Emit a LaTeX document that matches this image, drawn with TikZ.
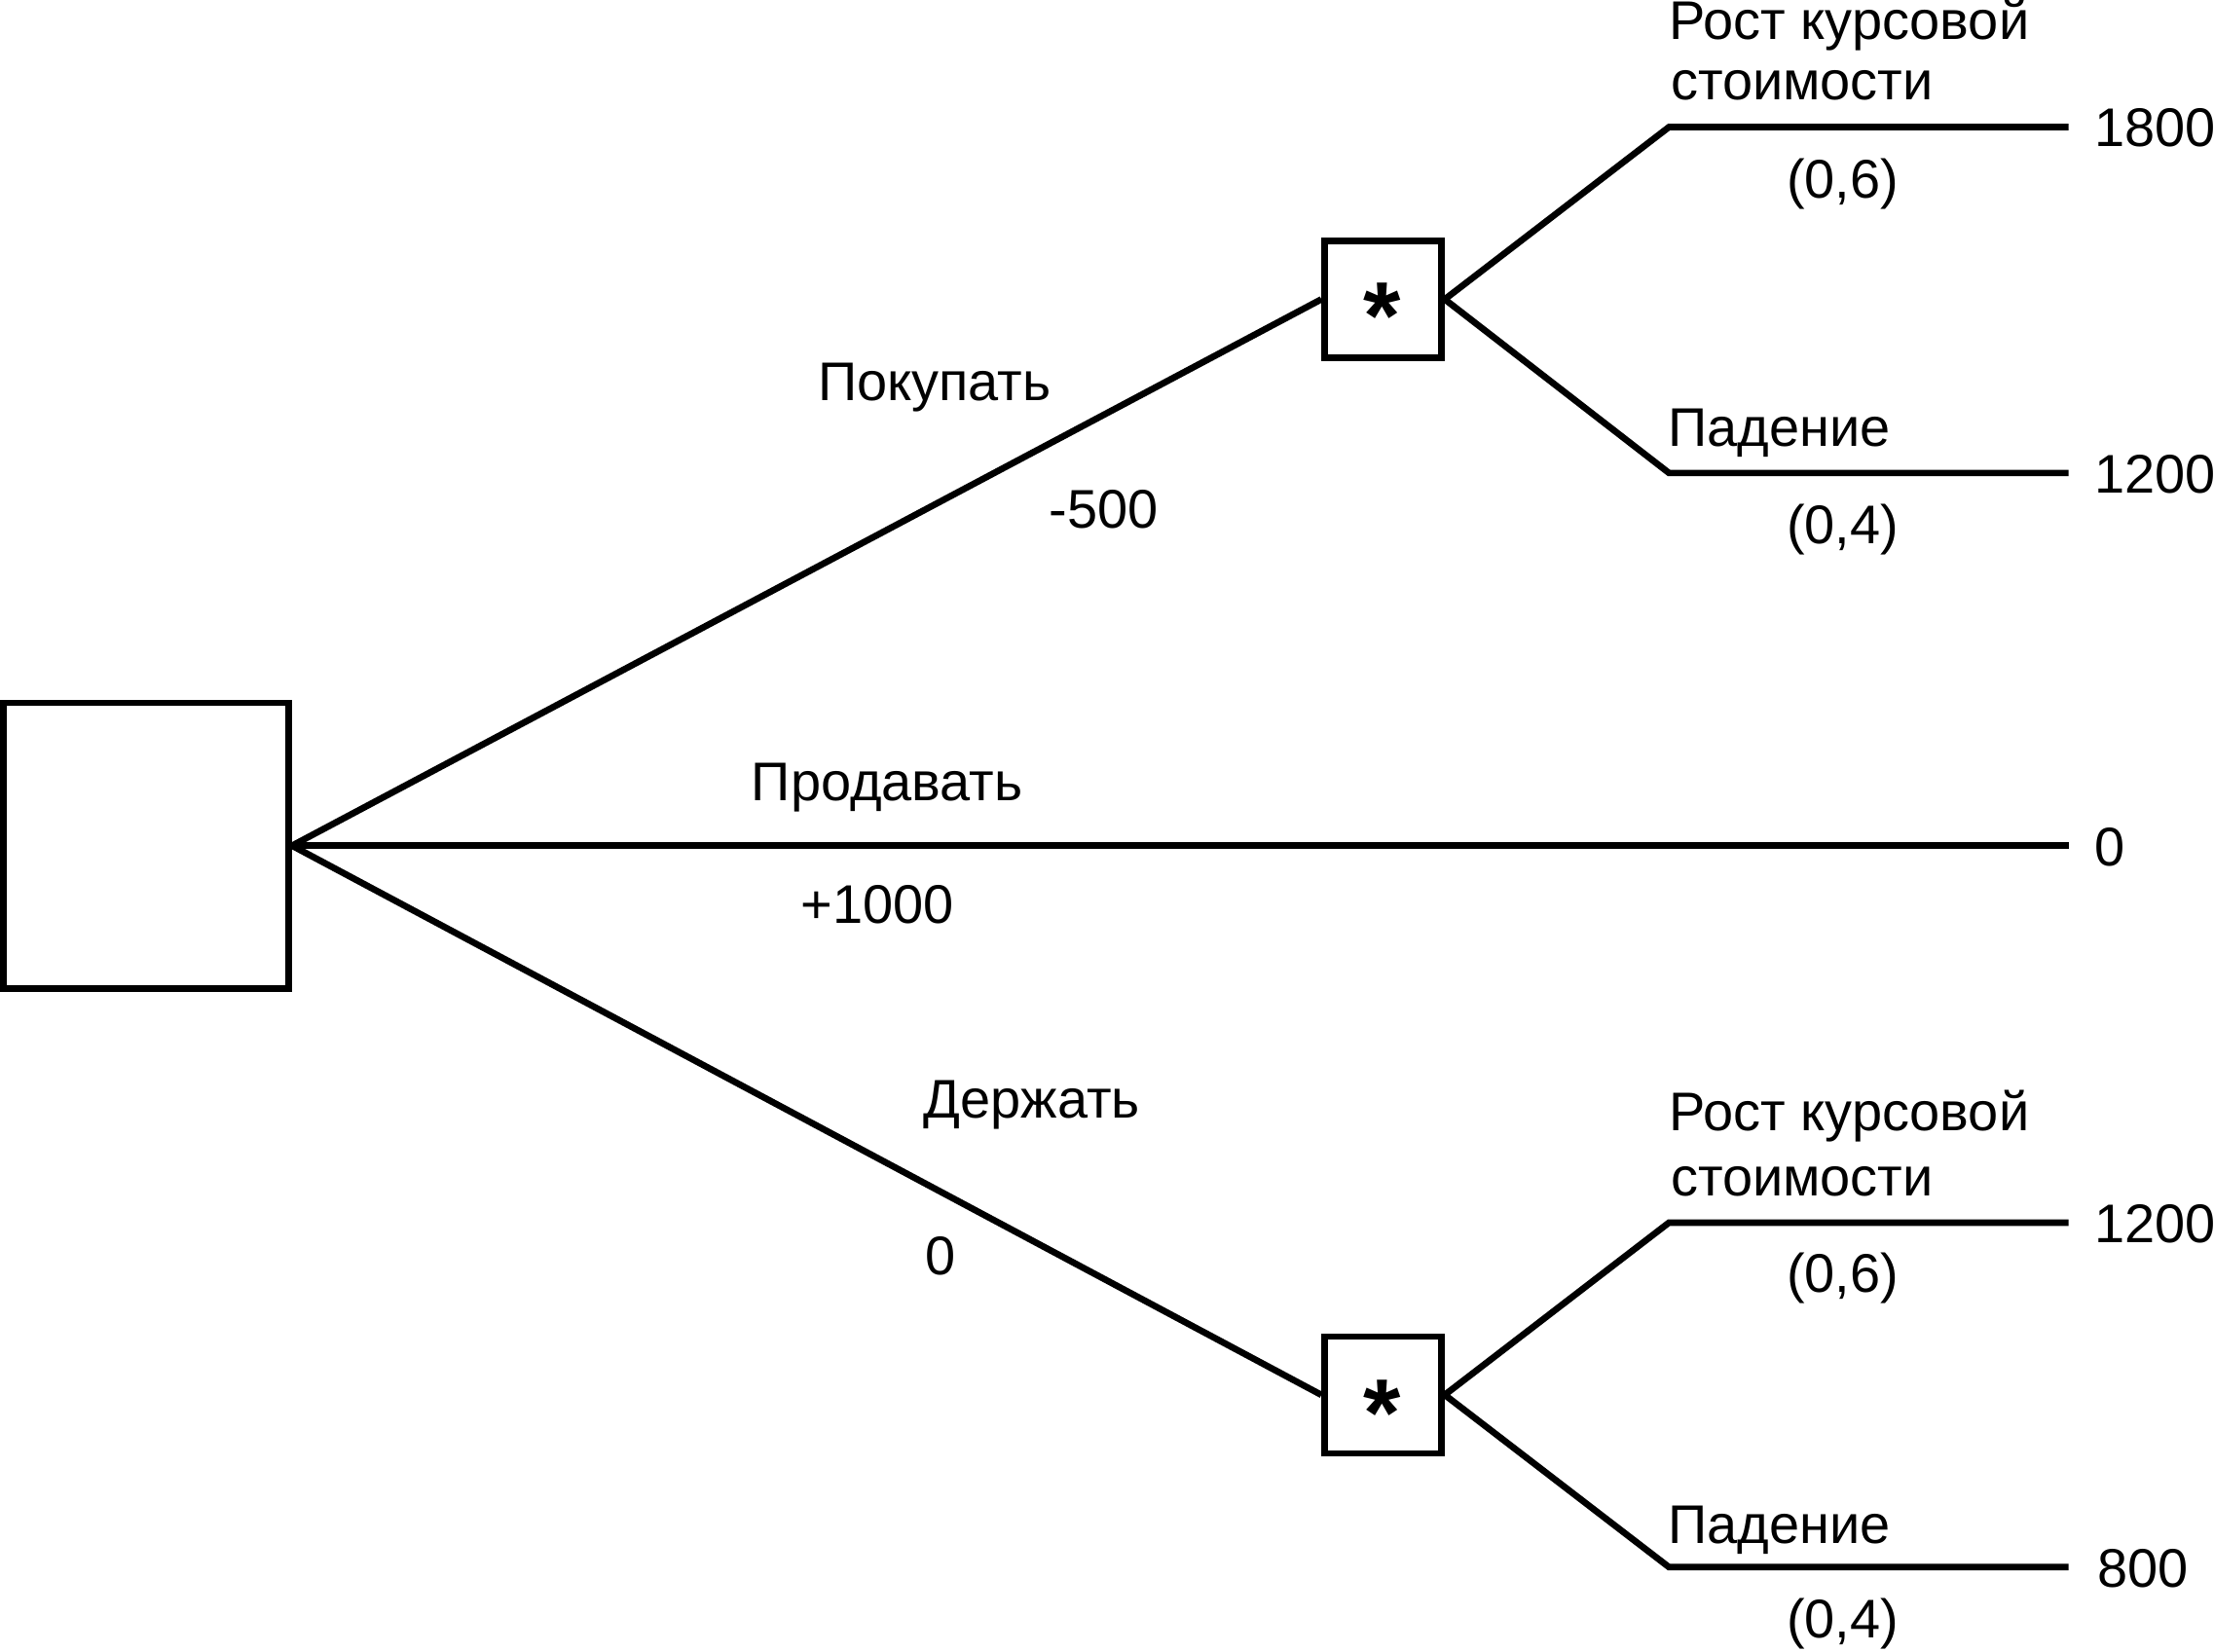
\documentclass[tikz,border=0pt]{standalone}
\usepackage{fontspec}
\setmainfont{Liberation Sans}
\begin{document}
\begin{tikzpicture}[x=0.014503cm,y=-0.014503cm,
  line width=1.9pt,
  every node/.style={font=\fontsize{15.9}{19}\selectfont},
  bigbox/.style={draw,rectangle,minimum width=2.93cm,minimum height=2.93cm,inner sep=0pt},
  chancebox/.style={draw,rectangle,minimum width=1.2cm,minimum height=1.2cm,inner sep=0pt},
  lab/.style={anchor=base west,inner sep=0pt},
  clab/.style={anchor=base,inner sep=0pt},
  star/.style={anchor=base,inner sep=0pt,font=\fontsize{28}{30}\selectfont\bfseries}]
\useasboundingbox (0,0) rectangle (1568,1170);
% decision node
\node[bigbox] (root) at (103.5,599) {};
% chance nodes
\node[chancebox] (A) at (979.5,212) {};
\node[chancebox] (B) at (979.5,988) {};
\node[star] (sA) at (979,247) {*};
\node[star] (sB) at (979,1024) {*};
% coordinates
\coordinate (a1) at (1182,90);
\coordinate (a1e) at (1465,90);
\coordinate (a2) at (1182,335);
\coordinate (a2e) at (1465,335);
\coordinate (me) at (1465,599);
\coordinate (b1) at (1182,866);
\coordinate (b1e) at (1465,866);
\coordinate (b2) at (1182,1110);
\coordinate (b2e) at (1465,1110);
% connectors
\draw (root.east) -- (A.west);
\draw (root.east) -- (me);
\draw (root.east) -- (B.west);
\draw (A.east) -- (a1) -- (a1e);
\draw (A.east) -- (a2) -- (a2e);
\draw (B.east) -- (b1) -- (b1e);
\draw (B.east) -- (b2) -- (b2e);
% labels top
\node[lab] (t1) at (1180,28) {Рост курсовой};
\node[lab] (t2) at (1181,71) {стоимости};
\node[clab] (t3) at (1305,140) {(0,6)};
\node[lab] (t4) at (1481,104) {1800};
\node[lab] (t5) at (1179,316) {Падение};
\node[clab] (t6) at (1305,385) {(0,4)};
\node[lab] (t7) at (1481,349) {1200};
% main branch labels
\node[lab] (l1) at (577,284) {Покупать};
\node[lab] (l2) at (741,374) {-500};
\node[lab] (l3) at (530,567) {Продавать};
\node[lab] (l4) at (565,654) {+1000};
\node[lab] (l5) at (1481,613) {0};
\node[lab] (l6) at (652,792) {Держать};
\node[lab] (l7) at (653,903) {0};
% labels bottom
\node[lab] (u1) at (1180,801) {Рост курсовой};
\node[lab] (u2) at (1181,847) {стоимости};
\node[clab] (u3) at (1305,915) {(0,6)};
\node[lab] (u4) at (1481,880) {1200};
\node[lab] (u5) at (1179,1093) {Падение};
\node[clab] (u6) at (1305,1160) {(0,4)};
\node[lab] (u7) at (1483,1124) {800};
\end{tikzpicture}
\end{document}
